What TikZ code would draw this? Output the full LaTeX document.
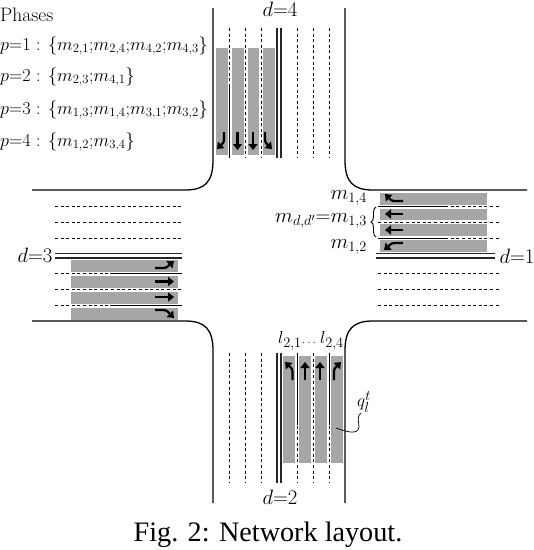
\documentclass[tikz,border=0pt]{standalone}
\usepackage{fontspec}
\usepackage{amsmath}
\usetikzlibrary{arrows.meta,decorations.pathreplacing}
\newfontfamily\capfont{Liberation Serif}
\begin{document}
\begin{tikzpicture}[
      x=1pt, y=-1pt,
      every node/.style={inner sep=0pt},
      curb/.style={line width=1.3pt},
      lane/.style={dashed, dash pattern=on 3pt off 2.6pt, line width=0.55pt},
      solidlane/.style={line width=0.7pt},
      center/.style={line width=1.2pt, black!85},
      pad/.style={fill=black!35, draw=none},
      move/.style={line width=2.2pt, -{Triangle[length=6pt,width=9pt]}},
      phase/.style={anchor=west, scale=1.055, transform shape, font=\fontsize{17.28}{20}\selectfont},
      dirlbl/.style={font=\fontsize{21}{23}\selectfont},
      lbl/.style={anchor=east, font=\fontsize{21}{23}\selectfont},
      lanelbl/.style={font=\fontsize{19}{21}\selectfont}
  ]
    \useasboundingbox (0,0) rectangle (534,550);

    % curbs
    \draw[curb] (213,8) -- (213,160) .. controls (213,182) and (205,190) .. (185,190) -- (32,190);
    \draw[curb] (345,8) -- (345,160) .. controls (345,182) and (353,190) .. (373,190) -- (527,190);
    \draw[curb] (32,321) -- (185,321) .. controls (205,321) and (213,329) .. (213,351) -- (213,503);
    \draw[curb] (527,321) -- (373,321) .. controls (353,321) and (345,329) .. (345,351) -- (345,503);

    % vertical pads
    \foreach \x in {216,232,247.5,263} {
      \fill[pad] (\x,48) rectangle ++(11.5,107);
    }
    \foreach \x in {283,299,315,331} {
      \fill[pad] (\x,356) rectangle ++(11.5,107);
    }
    % horizontal pads
    \foreach \y in {193,208.5,224,240} {
      \fill[pad] (380,\y) rectangle ++(107,11.5);
    }
    \foreach \y in {260,276,292,308} {
      \fill[pad] (71,\y) rectangle ++(107,11.5);
    }

    % lane lines
    \foreach \x in {229,245.5,261,297,313,329} {
      \draw[lane] (\x,28) -- (\x,158);
      \draw[lane] (\x,353) -- (\x,483);
    }
    \foreach \y in {206,222,238,273.5,289.5,305.5} {
      \draw[lane] (55,\y) -- (182,\y);
      \draw[lane] (378,\y) -- (499,\y);
    }
    \draw[solidlane] (229,87) -- (229,158);
    \draw[solidlane] (297,353) -- (297,425);
    \draw[solidlane] (329,353) -- (329,425);
    \draw[solidlane] (378,206) -- (448,206);
    \draw[solidlane] (378,238) -- (448,238);
    \draw[solidlane] (110,273.5) -- (182,273.5);
    \draw[solidlane] (110,305.5) -- (182,305.5);

    % double centre lines
    \foreach \x in {277,281} {
      \draw[center] (\x,28) -- (\x,158);
      \draw[center] (\x,353) -- (\x,483);
    }
    \foreach \y in {253.5,258} {
      \draw[center] (376,\y) -- (495,\y);
      \draw[center] (55,\y) -- (182,\y);
    }

    % movements
    \draw[move] (224,132) -- (224,139) .. controls (224,143) and (222,144) .. (217,149);
    \draw[move] (237.5,132) -- (237.5,150);
    \draw[move] (253,132) -- (253,150);
    \draw[move] (265,132) -- (265,139) .. controls (265,143) and (267,144) .. (272,149);

    \draw[move] (292.5,380) -- (292.5,372) .. controls (292.5,368) and (290,367) .. (285,362);
    \draw[move] (305,380) -- (305,362);
    \draw[move] (320,380) -- (320,362);
    \draw[move] (334,380) -- (334,372) .. controls (334,368) and (336,367) .. (341,362);

    \draw[move] (403,201) -- (395,201) .. controls (391,201) and (390,199) .. (385,194);
    \draw[move] (403,214) -- (385,214);
    \draw[move] (403,230) -- (385,230);
    \draw[move] (403,243) -- (395,243) .. controls (391,243) and (390,245) .. (384,250);

    \draw[move] (155,268) -- (163,268) .. controls (167,268) and (168,266) .. (174,261);
    \draw[move] (155,281.5) -- (174,281.5);
    \draw[move] (155,297) -- (174,297);
    \draw[move] (155,310) -- (163,310) .. controls (167,310) and (168,312) .. (174,318);

    % phases
    \node[anchor=west, font=\fontsize{19.5}{22}\selectfont] (title) at (0,15) {Phases};
    \node[phase] (phaseone) at (0,46) {$p{=}1$ : $\{m_{2,1}{;}m_{2,4}{;}m_{4,2}{;}m_{4,3}\}$};
    \node[phase] (phasetwo) at (0,77) {$p{=}2$ : $\{m_{2,3}{;}m_{4,1}\}$};
    \node[phase] (phasethree) at (0,110) {$p{=}3$ : $\{m_{1,3}{;}m_{1,4}{;}m_{3,1}{;}m_{3,2}\}$};
    \node[phase] (phasefour) at (0,142) {$p{=}4$ : $\{m_{1,2}{;}m_{3,4}\}$};

    % directions
    \node[dirlbl] (dfour) at (280,9) {$d{=}4$};
    \node[dirlbl] (done) at (517,256) {$d{=}1$};
    \node[dirlbl] (dthree) at (35,255) {$d{=}3$};
    \node[dirlbl] (dtwo) at (280,497) {$d{=}2$};

    % movement labels
    \node[lbl] (mfour) at (367,198) {$m_{1,4}$};
    \node[lbl] (mthree) at (367,221) {$m_{d,d'}{=}m_{1,3}$};
    \node[lbl] (mtwo) at (367,247) {$m_{1,2}$};
    \draw[line width=0.9pt, decorate, decoration={brace, amplitude=5pt, mirror}] (376,207) -- (376,237);

    \node[lanelbl] (lone) at (290,341) {$l_{2,1}$};
    \node[font=\fontsize{12}{14}\selectfont] (ldots) at (310,343) {$\dots$};
    \node[lanelbl] (lfour) at (332,341) {$l_{2,4}$};
    \node[lanelbl] (queue) at (364,402) {$q_l^t$};
    \draw[line width=0.7pt] (336,428) .. controls (345,431) and (358,436) .. (359,427) .. controls (359,420) and (356,418) .. (361,413);

    \node[font=\capfont\fontsize{28.2}{30}\selectfont] (caption) at (268,535) {Fig. 2: Network layout.};
  \end{tikzpicture}
\end{document}
